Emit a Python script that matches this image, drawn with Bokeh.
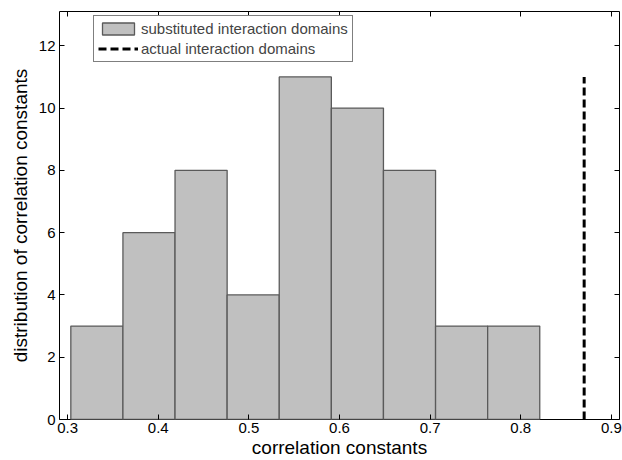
from bokeh.plotting import figure
from bokeh.models import LinearAxis, Range1d, Legend, LegendItem, FixedTicker
from bokeh.embed import file_html
from bokeh.resources import INLINE

bin_edges = [0.3035, 0.361, 0.4185, 0.476, 0.5335, 0.591, 0.6485, 0.706, 0.7635, 0.821]
counts = [3, 6, 8, 4, 11, 10, 8, 3, 3]
actual_x = 0.87
actual_height = 11
x_ticks = [0.3, 0.4, 0.5, 0.6, 0.7, 0.8, 0.9]
y_ticks = [0, 2, 4, 6, 8, 10, 12]

FONT = "Liberation Sans"

p = figure(width=622, height=460, output_backend="svg", toolbar_location=None,
           x_range=Range1d(0.291, 0.909), y_range=Range1d(0, 13.1),
           min_border_left=59, min_border_right=3, min_border_top=11, min_border_bottom=41,
           x_axis_label="correlation constants",
           y_axis_label="distribution of correlation constants")
p.grid.visible = False
p.outline_line_color = "black"
p.outline_line_width = 1
p.background_fill_color = "white"
p.border_fill_color = "white"

bars = p.quad(left=bin_edges[:-1], right=bin_edges[1:], bottom=0, top=counts,
              fill_color="#c0c0c0", line_color="#5a5a5a", line_width=1.3)
dline = p.line(x=[actual_x, actual_x], y=[0, actual_height], line_color="black",
               line_width=3, line_dash="8 4")

for ax in (p.xaxis[0], p.yaxis[0]):
    ax.major_tick_in = 5
    ax.major_tick_out = 0
    ax.minor_tick_in = 0
    ax.minor_tick_out = 0
    ax.axis_line_color = None
    ax.major_label_text_font = FONT
    ax.major_label_text_font_size = "15px"
    ax.major_label_text_color = "black"
    ax.axis_label_text_font = FONT
    ax.axis_label_text_font_size = "19px"
    ax.axis_label_text_font_style = "normal"
    ax.axis_label_text_color = "black"
p.xaxis[0].ticker = FixedTicker(ticks=x_ticks)
p.yaxis[0].ticker = FixedTicker(ticks=y_ticks)
p.xaxis[0].major_label_standoff = 3
p.yaxis[0].major_label_standoff = 4
p.xaxis[0].axis_label_standoff = 1
p.yaxis[0].axis_label_standoff = 5

top = LinearAxis(ticker=FixedTicker(ticks=x_ticks),
                 major_label_overrides={t: "" for t in x_ticks},
                 major_tick_in=5, major_tick_out=0, minor_tick_in=0, minor_tick_out=0,
                 axis_line_color=None)
right = LinearAxis(ticker=FixedTicker(ticks=y_ticks),
                   major_label_overrides={t: "" for t in y_ticks},
                   major_tick_in=5, major_tick_out=0, minor_tick_in=0, minor_tick_out=0,
                   axis_line_color=None)
p.add_layout(top, "above")
p.add_layout(right, "right")

legend = Legend(items=[LegendItem(label="substituted interaction domains", renderers=[bars]),
                       LegendItem(label="actual interaction domains", renderers=[dline])],
                location=(34, 357), label_text_font=FONT, label_text_font_size="15px",
                glyph_width=40, glyph_height=15, spacing=3, padding=4, margin=0,
                label_standoff=3, border_line_color="black", border_line_width=1,
                background_fill_alpha=1)
p.add_layout(legend, "center")

open("out.html", "w").write(file_html(p, INLINE))
